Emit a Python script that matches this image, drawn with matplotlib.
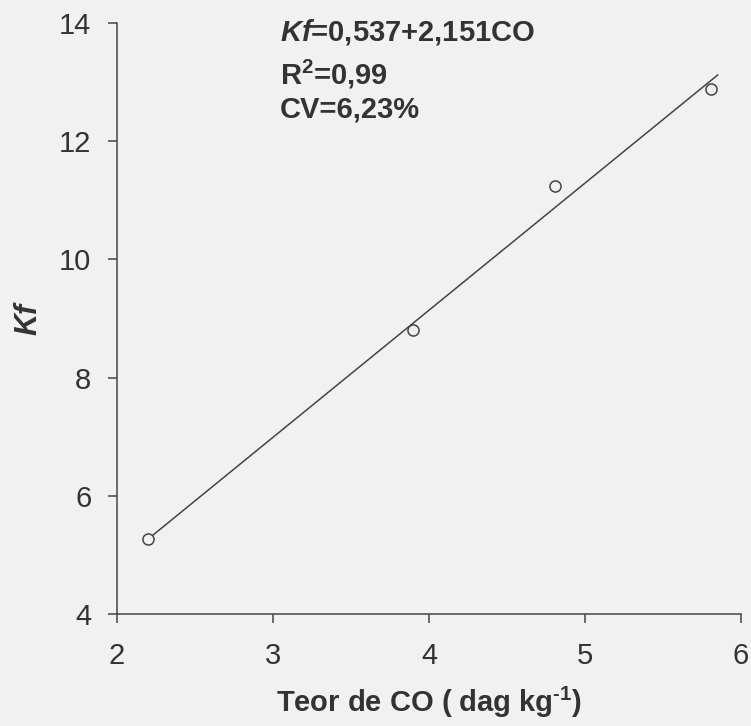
import numpy as np
import matplotlib
matplotlib.use("Agg")
import matplotlib.pyplot as plt

plt.rcParams['font.family'] = ['Liberation Sans', 'DejaVu Sans']
plt.rcParams['mathtext.fontset'] = 'custom'
plt.rcParams['mathtext.rm'] = 'Liberation Sans:bold'
plt.rcParams['mathtext.bf'] = 'Liberation Sans:bold'
plt.rcParams['mathtext.it'] = 'Liberation Sans:italic:bold'

# Data
co = [2.2, 3.9, 4.81, 5.81]          # Teor de CO (dag kg-1)
kf = [5.27, 8.80, 11.25, 12.88]      # Kf
intercept = 0.537
slope = 2.151
fit_range = [2.2, 5.85]
x_ticks = [2, 3, 4, 5, 6]
y_ticks = [4, 6, 8, 10, 12, 14]

bg = '#f1f1f1'
ink = '#333333'

fig = plt.figure(figsize=(7.51, 7.26), dpi=100, facecolor=bg)
ax = fig.add_axes([0.1558, 0.1543, 0.831, 0.8140], facecolor=bg)

xf = np.array(fit_range)
ax.plot(xf, intercept + slope * xf, color='#444444', lw=1.1, zorder=2)
ax.plot(co, kf, 'o', mfc=bg, mec='#444444', ms=8, mew=1.1, zorder=3)

ax.set_xlim(2, 6)
ax.set_ylim(4, 14)
ax.set_xticks(x_ticks)
ax.set_yticks(y_ticks)
for s in ['top', 'right']:
    ax.spines[s].set_visible(False)
for s in ['left', 'bottom']:
    ax.spines[s].set_color('#444444')
    ax.spines[s].set_linewidth(1.1)
ax.tick_params(axis='both', direction='out', length=6.5, width=1.1,
               colors='#444444', labelcolor=ink, labelsize=21)
ax.tick_params(axis='y', pad=12)
ax.tick_params(axis='x', pad=14)

ax.set_xlabel('Teor de CO ( dag kg$^{\\mathbf{\u2010 1}}$)', fontsize=21,
              fontweight='bold', color=ink, labelpad=10)
ax.set_ylabel('Kf', fontsize=22, fontweight='bold', fontstyle='italic',
              color=ink, labelpad=11)

ax.text(0.373, 0.976, '$\\mathit{Kf}$=0,537+2,151CO', transform=fig.transFigure,
        fontsize=21, fontweight='bold', color=ink, va='top', ha='left')
ax.text(0.373, 0.921, 'R$^{2}$=0,99', transform=fig.transFigure,
        fontsize=21, fontweight='bold', color=ink, va='top', ha='left')
ax.text(0.373, 0.868, 'CV=6,23%', transform=fig.transFigure,
        fontsize=21, fontweight='bold', color=ink, va='top', ha='left')

fig.savefig('out.png', dpi=100, facecolor=bg)
